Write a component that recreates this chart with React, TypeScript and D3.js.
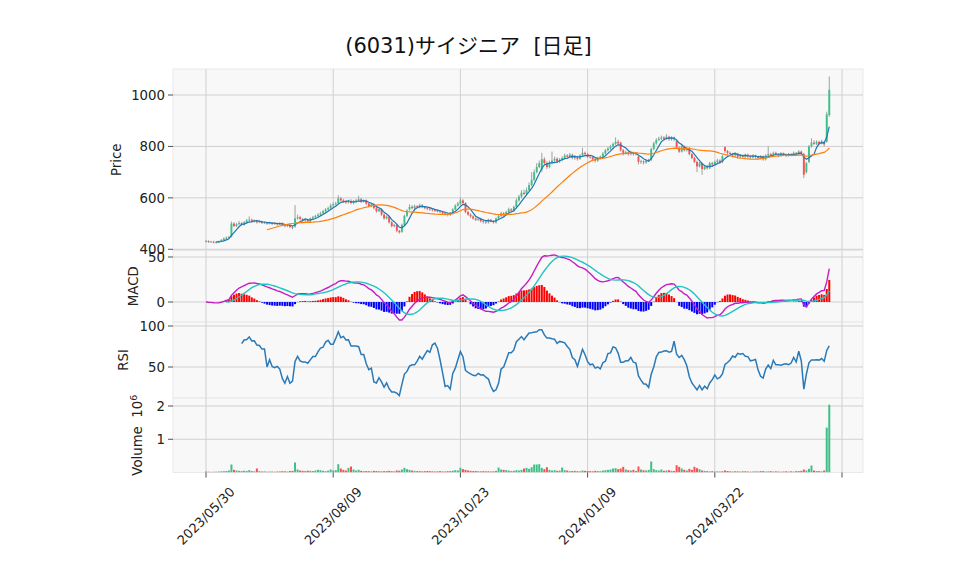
import React, { useEffect, useRef } from 'react';
import * as d3 from 'd3';

const title = '(6031)サイジニア  [日足]';

// x axis: bar index of each tick and its date label
const tickIdx = [0, 50, 100, 150, 200, 250];
const tickLabels = ['2023/05/30', '2023/08/09', '2023/10/23', '2024/01/09', '2024/03/22', ''];

const opens = [
  430, 432, 428, 430, 426, 428, 431, 436, 442, 446,
  450, 500, 490, 498, 502, 496, 505, 512, 515, 508,
  512, 505, 508, 502, 504, 500, 503, 499, 501, 497,
  502, 495, 490, 494, 487, 488, 520, 525, 518, 512,
  515, 508, 520, 525, 530, 535, 540, 548, 555, 560,
  570, 575, 580, 598, 590, 585, 582, 588, 580, 586,
  590, 595, 585, 590, 578, 568, 575, 560, 548, 556,
  535, 520, 527, 505, 490, 495, 472, 468, 495, 530,
  555, 565, 560, 568, 565, 572, 565, 560, 558, 555,
  552, 550, 548, 545, 540, 538, 535, 540, 555, 570,
  578, 590, 580, 545, 535, 528, 520, 515, 518, 510,
  508, 505, 515, 510, 505, 520, 530, 540, 535, 545,
  555, 550, 565, 590, 605, 620, 615, 630, 650, 670,
  700, 720, 710, 750, 735, 720, 735, 745, 752, 742,
  748, 755, 765, 760, 768, 755, 760, 752, 765, 775,
  770, 760, 758, 750, 745, 755, 760, 772, 785, 792,
  800, 810, 818, 815, 785, 775, 778, 770, 776, 770,
  760, 740, 742, 738, 745, 748, 790, 812, 825, 830,
  835, 830, 838, 828, 835, 820, 795, 780, 800, 785,
  795, 770, 755, 740, 722, 735, 712, 722, 715, 735,
  730, 740, 745, 740, 797, 782, 775, 770, 765, 772,
  760, 765, 760, 768, 762, 758, 765, 760, 755, 762,
  750, 765, 770, 768, 775, 770, 765, 772, 768, 765,
  770, 768, 775, 772, 780, 770, 700, 740, 800, 815,
  810, 818, 812, 818, 818, 922,
];

const highs = [
  436, 435, 433, 433, 431, 434, 440, 446, 450, 452,
  508, 506, 503, 510, 506, 510, 518, 528, 520, 516,
  515, 512, 511, 508, 507, 507, 506, 505, 504, 506,
  505, 498, 498, 497, 490, 572, 535, 530, 522, 520,
  518, 524, 530, 534, 540, 546, 553, 560, 566, 578,
  582, 585, 610, 603, 596, 592, 593, 595, 592, 596,
  608, 600, 594, 594, 582, 580, 579, 565, 560, 560,
  540, 532, 530, 510, 500, 498, 476, 500, 535, 556,
  575, 572, 574, 572, 578, 576, 568, 564, 562, 560,
  556, 554, 552, 549, 545, 542, 545, 560, 575, 584,
  600, 595, 583, 550, 540, 532, 525, 523, 522, 515,
  512, 519, 518, 513, 524, 535, 546, 545, 550, 562,
  560, 570, 598, 612, 630, 632, 640, 660, 700, 710,
  735, 745, 775, 758, 742, 745, 780, 760, 758, 755,
  762, 772, 770, 775, 772, 766, 764, 770, 795, 780,
  775, 766, 762, 755, 760, 765, 778, 790, 798, 806,
  815, 835, 826, 818, 790, 784, 782, 783, 780, 778,
  764, 748, 746, 750, 752, 795, 818, 832, 838, 842,
  840, 848, 842, 840, 838, 824, 800, 805, 804, 800,
  798, 774, 760, 745, 740, 738, 726, 728, 740, 740,
  745, 752, 750, 768, 800, 786, 780, 775, 778, 775,
  770, 768, 772, 772, 766, 770, 768, 764, 766, 765,
  770, 800, 775, 780, 780, 774, 778, 776, 772, 775,
  774, 780, 778, 786, 784, 775, 740, 805, 832, 825,
  824, 822, 826, 822, 935, 1072,
];

const lows = [
  427, 425, 425, 423, 422, 425, 428, 433, 438, 442,
  446, 486, 487, 494, 492, 492, 500, 505, 503, 504,
  500, 502, 498, 498, 495, 497, 494, 495, 492, 494,
  490, 485, 486, 482, 478, 484, 515, 512, 505, 506,
  502, 504, 515, 520, 525, 530, 535, 542, 550, 555,
  565, 570, 575, 585, 580, 577, 578, 575, 575, 580,
  584, 580, 582, 572, 562, 564, 555, 542, 545, 530,
  515, 516, 500, 485, 486, 466, 461, 464, 490, 525,
  550, 555, 555, 560, 560, 560, 555, 552, 550, 547,
  545, 543, 540, 535, 532, 528, 530, 536, 552, 566,
  572, 575, 540, 530, 522, 515, 510, 510, 504, 500,
  498, 500, 505, 500, 500, 515, 525, 528, 530, 540,
  545, 545, 560, 585, 598, 610, 610, 625, 645, 665,
  695, 715, 700, 728, 712, 715, 730, 740, 735, 736,
  742, 750, 752, 754, 750, 748, 745, 748, 760, 762,
  755, 752, 745, 738, 740, 750, 755, 768, 780, 786,
  795, 805, 805, 780, 765, 768, 764, 765, 764, 765,
  730, 732, 730, 732, 740, 742, 785, 806, 820, 825,
  822, 825, 822, 822, 820, 790, 775, 776, 780, 780,
  765, 750, 735, 700, 718, 690, 708, 710, 712, 722,
  725, 735, 732, 735, 775, 768, 762, 758, 760, 752,
  755, 755, 755, 755, 750, 752, 752, 748, 750, 744,
  745, 760, 762, 762, 765, 758, 760, 762, 758, 760,
  762, 762, 765, 766, 768, 677, 695, 735, 795, 805,
  805, 805, 808, 800, 815, 915,
];

const closes = [
  432, 428, 430, 426, 428, 431, 436, 442, 446, 448,
  500, 490, 498, 502, 496, 505, 512, 515, 508, 512,
  505, 508, 502, 504, 500, 503, 499, 501, 497, 502,
  495, 490, 494, 487, 485, 520, 525, 518, 512, 515,
  508, 520, 525, 530, 535, 540, 548, 555, 560, 570,
  575, 578, 598, 590, 585, 582, 588, 580, 586, 590,
  595, 585, 590, 578, 568, 575, 560, 548, 556, 535,
  520, 527, 505, 490, 495, 472, 466, 495, 530, 550,
  565, 560, 568, 565, 572, 565, 560, 558, 555, 552,
  550, 548, 545, 540, 538, 535, 540, 555, 570, 578,
  590, 580, 545, 535, 528, 520, 515, 518, 510, 508,
  505, 515, 510, 505, 520, 530, 540, 535, 545, 555,
  550, 565, 590, 605, 620, 615, 630, 650, 670, 700,
  720, 735, 750, 735, 720, 735, 745, 752, 742, 748,
  755, 765, 760, 768, 755, 760, 752, 765, 775, 770,
  760, 758, 750, 745, 755, 760, 772, 785, 792, 800,
  810, 818, 812, 785, 775, 778, 770, 776, 770, 772,
  740, 742, 738, 745, 748, 790, 812, 825, 830, 835,
  830, 838, 828, 835, 828, 795, 780, 800, 785, 795,
  770, 755, 740, 722, 735, 712, 722, 715, 735, 730,
  740, 745, 738, 762, 782, 775, 770, 765, 772, 760,
  765, 760, 768, 762, 758, 765, 760, 755, 762, 750,
  765, 770, 768, 775, 770, 765, 772, 768, 765, 770,
  768, 775, 772, 780, 775, 690, 735, 800, 815, 810,
  818, 812, 820, 808, 925, 1020,
];

// thousands of shares
const volumes = [
  30, 25, 20, 22, 25, 30, 35, 40, 45, 60,
  240, 80, 60, 50, 40, 55, 45, 70, 40, 35,
  120, 40, 30, 35, 25, 30, 28, 25, 30, 35,
  40, 35, 30, 45, 50, 300, 90, 60, 50, 45,
  55, 50, 45, 60, 80, 70, 50, 40, 55, 90,
  60, 70, 250, 120, 80, 60, 140, 180, 90, 60,
  80, 50, 40, 45, 40, 35, 50, 45, 40, 35,
  40, 45, 50, 40, 35, 60, 55, 90, 140, 100,
  80, 60, 50, 40, 45, 35, 40, 45, 40, 35,
  30, 35, 40, 35, 30, 40, 45, 55, 70, 60,
  140, 100, 80, 60, 50, 40, 45, 40, 35, 40,
  35, 40, 30, 35, 50, 150, 90, 80, 70, 60,
  40, 50, 70, 60, 80, 120, 140, 110, 160, 240,
  240, 250, 140, 100, 160, 80, 60, 70, 50, 60,
  150, 70, 60, 40, 45, 50, 40, 35, 60, 50,
  45, 40, 35, 50, 45, 40, 60, 70, 80, 90,
  120, 130, 100, 120, 170, 90, 70, 60, 80, 50,
  180, 90, 70, 60, 80, 330, 100, 70, 60, 90,
  50, 60, 70, 50, 45, 220, 170, 120, 80, 60,
  110, 80, 170, 130, 100, 60, 50, 40, 35, 40,
  30, 35, 30, 40, 60, 45, 35, 30, 40, 35,
  30, 35, 40, 30, 25, 30, 35, 30, 45, 40,
  30, 35, 40, 30, 35, 30, 25, 30, 35, 30,
  35, 30, 40, 45, 50, 90, 60, 110, 210, 60,
  45, 40, 35, 60, 1350, 2040,
];

const priceTicks = [400, 600, 800, 1000];
const macdTicks = [0, 50];
const rsiTicks = [50, 100];
const volTicks = [1, 2];

// indicator helpers (moving averages, MACD 12/26/9, RSI 14)
const sma = (arr: number[], n: number) =>
  arr.map((_, i) => (i < n - 1 ? null : d3.mean(arr.slice(i - n + 1, i + 1)) as number));
const ema = (arr: number[], n: number) => {
  const k = 2 / (n + 1);
  let prev = arr[0];
  return arr.map((v, i) => {
    if (i > 0) prev = prev + k * (v - prev);
    return prev;
  });
};

const UP = '#3fbf88';
const DOWN = '#fd4f4f';
const FONT = '"DejaVu Sans", "Noto Sans CJK JP", sans-serif';

const App = () => {
  const svgRef = useRef<SVGSVGElement>(null);

  useEffect(() => {
    const n = closes.length;
    const idx = d3.range(n);
    const ma5 = sma(closes, 5);
    const ma25 = sma(closes, 25);
    const e12 = ema(closes, 12);
    const e26 = ema(closes, 26);
    const macd = closes.map((_, i) => e12[i] - e26[i]);
    const signal = sma(macd, 9);
    const hist = macd.map((m, i) => (signal[i] == null ? null : m - (signal[i] as number)));
    const diff = closes.map((c, i) => (i === 0 ? 0 : c - closes[i - 1]));
    const rsi = closes.map((_, i) => {
      if (i < 14) return null;
      const w = diff.slice(i - 13, i + 1);
      const g = d3.mean(w, d => Math.max(d, 0)) as number;
      const l = d3.mean(w, d => Math.max(-d, 0)) as number;
      return l === 0 ? 100 : 100 - 100 / (1 + g / l);
    });

    const svg = d3.select(svgRef.current);
    svg.selectAll('*').remove();

    const left = 173, right = 863;
    const x = d3.scaleLinear().domain([0, 250]).range([206, 842]);

    const panels = [
      { key: 'price', top: 69, bottom: 250.5, y: d3.scaleLinear().domain([400, 1000]).range([249.3, 95]), ticks: priceTicks, label: 'Price', lx: 116 },
      { key: 'macd', top: 250.5, bottom: 322, y: d3.scaleLinear().domain([0, 50]).range([302, 257]), ticks: macdTicks, label: 'MACD', lx: 133 },
      { key: 'rsi', top: 322, bottom: 398, y: d3.scaleLinear().domain([50, 100]).range([367, 326]), ticks: rsiTicks, label: 'RSI', lx: 123 },
      { key: 'vol', top: 398, bottom: 472.5, y: d3.scaleLinear().domain([0, 2]).range([472.5, 406]), ticks: volTicks, label: 'Volume', lx: 137 },
    ];

    const defs = svg.append('defs');
    panels.forEach(p => {
      defs.append('clipPath').attr('id', `clip-${p.key}`)
        .append('rect').attr('x', left).attr('y', p.top).attr('width', right - left).attr('height', p.bottom - p.top);
    });

    // panel frames + grid
    panels.forEach(p => {
      const g = svg.append('g');
      g.append('rect').attr('x', left).attr('y', p.top).attr('width', right - left).attr('height', p.bottom - p.top)
        .attr('fill', '#f8f8f8').attr('stroke', '#e4e4e4').attr('stroke-width', 0.8);
      tickIdx.forEach(t => {
        g.append('line').attr('x1', x(t)).attr('x2', x(t)).attr('y1', p.top).attr('y2', p.bottom)
          .attr('stroke', '#d0d0d0').attr('stroke-width', 1);
      });
      p.ticks.forEach(t => {
        const yy = p.y(t);
        g.append('line').attr('x1', left).attr('x2', right).attr('y1', yy).attr('y2', yy)
          .attr('stroke', '#d0d0d0').attr('stroke-width', 1);
        g.append('line').attr('x1', left - 5).attr('x2', left).attr('y1', yy).attr('y2', yy)
          .attr('stroke', '#222').attr('stroke-width', 0.8);
        g.append('text').attr('x', left - 8).attr('y', yy).attr('dy', '0.35em')
          .attr('text-anchor', 'end').attr('font-size', 13.3).attr('font-family', FONT).attr('fill', '#222')
          .text(t);
      });
      const lab = g.append('text')
        .attr('transform', `translate(${p.lx},${(p.top + p.bottom) / 2}) rotate(-90)`)
        .attr('text-anchor', 'middle').attr('dy', '0.35em')
        .attr('font-size', 13.3).attr('font-family', FONT).attr('fill', '#222')
        .style('white-space', 'pre');
      if (p.key === 'vol') {
        lab.append('tspan').text('Volume  10');
        lab.append('tspan').attr('dy', '-0.45em').attr('font-size', 9.5).text('6');
      } else {
        lab.text(p.label);
      }
    });

    const [pp, pm, pr, pv] = panels;

    // candles
    const cg = svg.append('g').attr('clip-path', 'url(#clip-price)');
    idx.forEach(i => {
      const up = closes[i] >= opens[i];
      cg.append('line').attr('x1', x(i)).attr('x2', x(i)).attr('y1', pp.y(highs[i])).attr('y2', pp.y(lows[i]))
        .attr('stroke', '#8a8a8a').attr('stroke-width', 0.8);
      const y0 = pp.y(Math.max(opens[i], closes[i]));
      const y1 = pp.y(Math.min(opens[i], closes[i]));
      cg.append('rect').attr('x', x(i) - 0.95).attr('width', 1.9)
        .attr('y', y0).attr('height', Math.max(0.8, y1 - y0))
        .attr('fill', up ? UP : DOWN);
    });
    const line = (ys: (number | null)[], y: d3.ScaleLinear<number, number>) =>
      d3.line<number>().defined(i => ys[i] != null).x(i => x(i)).y(i => y(ys[i] as number))(idx);
    cg.append('path').attr('d', line(ma5, pp.y)).attr('fill', 'none').attr('stroke', '#1f77b4').attr('stroke-width', 1.2);
    cg.append('path').attr('d', line(ma25, pp.y)).attr('fill', 'none').attr('stroke', '#ff7f0e').attr('stroke-width', 1.2);

    // MACD
    const mg = svg.append('g').attr('clip-path', 'url(#clip-macd)');
    idx.forEach(i => {
      const h = hist[i];
      if (h == null) return;
      const y0 = pm.y(Math.max(h, 0)), y1 = pm.y(Math.min(h, 0));
      mg.append('rect').attr('x', x(i) - 1).attr('width', 2).attr('y', y0).attr('height', y1 - y0)
        .attr('fill', h >= 0 ? '#ff0000' : '#0000ff');
    });
    mg.append('path').attr('d', line(macd, pm.y)).attr('fill', 'none').attr('stroke', '#c31ec3').attr('stroke-width', 1.4);
    mg.append('path').attr('d', line(signal, pm.y)).attr('fill', 'none').attr('stroke', '#22c3c3').attr('stroke-width', 1.4);

    // RSI
    const rg = svg.append('g').attr('clip-path', 'url(#clip-rsi)');
    rg.append('path').attr('d', line(rsi, pr.y)).attr('fill', 'none').attr('stroke', '#2a7ab8').attr('stroke-width', 1.5);

    // Volume
    const vg = svg.append('g').attr('clip-path', 'url(#clip-vol)');
    idx.forEach(i => {
      const yv = pv.y(volumes[i] / 1000);
      vg.append('rect').attr('x', x(i) - 1).attr('width', 2).attr('y', yv).attr('height', pv.y(0) - yv)
        .attr('fill', closes[i] >= opens[i] ? UP : DOWN);
    });

    // x axis ticks + labels
    const xa = svg.append('g');
    tickIdx.forEach((t, k) => {
      xa.append('line').attr('x1', x(t)).attr('x2', x(t)).attr('y1', 472.5).attr('y2', 477.5)
        .attr('stroke', '#222').attr('stroke-width', 0.8);
      if (!tickLabels[k]) return;
      xa.append('text').attr('transform', `translate(${x(t)},516) rotate(-45)`)
        .attr('text-anchor', 'middle').attr('dy', '0.35em')
        .attr('font-size', 13).attr('font-family', FONT).attr('fill', '#222')
        .text(tickLabels[k]);
    });

    svg.append('text').attr('x', 468.5).attr('y', 53).attr('text-anchor', 'middle')
      .attr('font-size', 21).attr('font-family', FONT).attr('fill', '#111')
      .style('white-space', 'pre').text(title);
  }, []);

  return (
    <svg ref={svgRef} width={958} height={575}
      style={{ position: 'absolute', left: 0, top: 0, background: '#fff' }} />
  );
};

export default App;
